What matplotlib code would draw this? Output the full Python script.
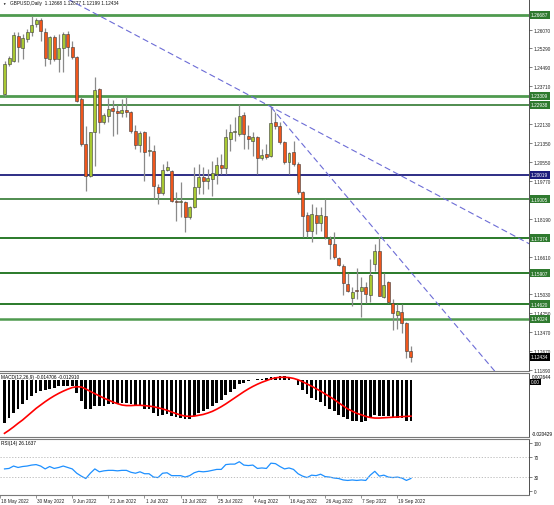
import numpy as np
import pandas as pd
import matplotlib
matplotlib.use("Agg")
import matplotlib.pyplot as plt
import matplotlib.transforms as mtransforms

plt.rcParams['font.family'] = ['Liberation Sans', 'DejaVu Sans']

# GBPUSD daily, 19 May 2022 - 22 Sep 2022
dates = pd.bdate_range('2022-05-19', '2022-09-22')

opens = [1.2338, 1.2463, 1.2477, 1.2581, 1.2529, 1.2567, 1.2598, 1.2630, 1.2648, 1.2598,
         1.2484, 1.2577, 1.2484, 1.2529, 1.2588, 1.2533, 1.2491, 1.2317, 1.2130, 1.1998,
         1.2179, 1.2359, 1.2220, 1.2248, 1.2280, 1.2266, 1.2258, 1.2272, 1.2262, 1.2183,
         1.2126, 1.2179, 1.2102, 1.2102, 1.1950, 1.1925, 1.2022, 1.2016, 1.1891, 1.1889,
         1.1887, 1.1825, 1.1866, 1.1952, 1.1994, 1.1975, 1.1984, 1.2005, 1.2044, 1.2030,
         1.2151, 1.2179, 1.2172, 1.2252, 1.2165, 1.2144, 1.2160, 1.2072, 1.2088, 1.2081,
         1.2220, 1.2206, 1.2137, 1.2054, 1.2095, 1.2047, 1.1929, 1.1835, 1.1769, 1.1835,
         1.1801, 1.1831, 1.1734, 1.1713, 1.1654, 1.1623, 1.1547, 1.1487, 1.1520, 1.1519,
         1.1533, 1.1501, 1.1630, 1.1685, 1.1491, 1.1554, 1.1467, 1.1419, 1.1431, 1.1384,
         1.12668]
highs = [1.2476, 1.2498, 1.2595, 1.2595, 1.2588, 1.2609, 1.2665, 1.2654, 1.2654, 1.2612,
         1.2581, 1.2584, 1.2588, 1.2598, 1.2602, 1.2560, 1.2498, 1.2325, 1.2206, 1.2181,
         1.2408, 1.2362, 1.2259, 1.2322, 1.2313, 1.2294, 1.2317, 1.2327, 1.2269, 1.2210,
         1.2185, 1.2185, 1.2165, 1.2126, 1.1963, 1.2047, 1.2058, 1.2022, 1.1929, 1.1970,
         1.1894, 1.1873, 1.2033, 1.2047, 1.2033, 1.2026, 1.2060, 1.2074, 1.2088, 1.2192,
         1.2213, 1.2241, 1.2297, 1.2262, 1.2210, 1.2179, 1.2165, 1.2109, 1.2130, 1.2285,
         1.2262, 1.2220, 1.2144, 1.2095, 1.2144, 1.2054, 1.1935, 1.1845, 1.1880, 1.1866,
         1.1866, 1.1901, 1.1748, 1.1762, 1.1658, 1.1630, 1.1592, 1.1533, 1.1612, 1.1575,
         1.1554, 1.1651, 1.1713, 1.1741, 1.1592, 1.1559, 1.1484, 1.1463, 1.1463, 1.1387,
         1.12877]
lows = [1.2330, 1.2456, 1.2470, 1.2470, 1.2484, 1.2554, 1.2581, 1.2616, 1.2558, 1.2456,
        1.2463, 1.2477, 1.2429, 1.2429, 1.2498, 1.2484, 1.2304, 1.2123, 1.1935, 1.1991,
        1.2040, 1.2176, 1.2213, 1.2220, 1.2165, 1.2172, 1.2241, 1.2241, 1.2174, 1.2109,
        1.2095, 1.1977, 1.2081, 1.1901, 1.1880, 1.1919, 1.2016, 1.1887, 1.1810, 1.1825,
        1.1762, 1.1817, 1.1863, 1.1922, 1.1922, 1.1942, 1.1915, 1.1963, 1.2005, 1.2005,
        1.2102, 1.2144, 1.2165, 1.2109, 1.2109, 1.2081, 1.2005, 1.2063, 1.2067, 1.2075,
        1.2192, 1.2130, 1.2047, 1.2005, 1.2040, 1.1922, 1.1741, 1.1741, 1.1720, 1.1755,
        1.1769, 1.1734, 1.1651, 1.1651, 1.1622, 1.1501, 1.1515, 1.1454, 1.1484, 1.1408,
        1.1467, 1.1470, 1.1602, 1.1495, 1.1487, 1.1467, 1.1356, 1.1359, 1.1342, 1.1237,
        1.12199]
closes = [1.2463, 1.2487, 1.2584, 1.2533, 1.2570, 1.2598, 1.2626, 1.2648, 1.2602, 1.2487,
          1.2575, 1.2484, 1.2529, 1.2588, 1.2533, 1.2491, 1.2310, 1.2130, 1.1998, 1.2179,
          1.2355, 1.2220, 1.2251, 1.2276, 1.2266, 1.2258, 1.2272, 1.2262, 1.2183, 1.2126,
          1.2174, 1.2095, 1.2105, 1.1956, 1.1925, 1.2022, 1.2035, 1.1891, 1.1887, 1.1892,
          1.1825, 1.1866, 1.1950, 1.1991, 1.1977, 1.1988, 1.2008, 1.2044, 1.2030, 1.2158,
          1.2179, 1.2183, 1.2248, 1.2172, 1.2151, 1.2160, 1.2072, 1.2085, 1.2077, 1.2216,
          1.2206, 1.2137, 1.2054, 1.2091, 1.2047, 1.1929, 1.1831, 1.1769, 1.1838, 1.1801,
          1.1834, 1.1741, 1.1713, 1.1658, 1.1626, 1.1551, 1.1519, 1.1515, 1.1519, 1.1533,
          1.1505, 1.1584, 1.1685, 1.1498, 1.1542, 1.1470, 1.1426, 1.1435, 1.1384, 1.1269,
          1.12434]

macd_main = [-0.0154, -0.0136, -0.0117, -0.0103, -0.0087, -0.0071, -0.0057, -0.0044, -0.0038, -0.0036,
             -0.0030, -0.0026, -0.0022, -0.0020, -0.0020, -0.0022, -0.0044, -0.0075, -0.0103, -0.0103,
             -0.0093, -0.0093, -0.0091, -0.0087, -0.0085, -0.0085, -0.0083, -0.0081, -0.0087, -0.0093,
             -0.0093, -0.0103, -0.0105, -0.0117, -0.0127, -0.0124, -0.0120, -0.0127, -0.0132, -0.0134,
             -0.0140, -0.0140, -0.0130, -0.0117, -0.0112, -0.0103, -0.0093, -0.0081, -0.0071, -0.0054,
             -0.0042, -0.0030, -0.0014, -0.0008, -0.0004, 0.0002, 0.0004, 0.0006, 0.0008, 0.0012,
             0.0012, 0.0014, 0.0014, 0.0011, 0.0002, -0.0018, -0.0035, -0.0051, -0.0063, -0.0071,
             -0.0079, -0.0091, -0.0103, -0.0112, -0.0124, -0.0132, -0.0140, -0.0145, -0.0148, -0.0149,
             -0.0148, -0.0132, -0.0124, -0.0127, -0.0127, -0.0130, -0.0132, -0.0135, -0.0137, -0.0145,
             -0.014706]
macd_signal = [-0.0191, -0.0180, -0.0168, -0.0155, -0.0143, -0.0129, -0.0115, -0.0101, -0.0089, -0.0077,
               -0.0066, -0.0056, -0.0047, -0.0039, -0.0032, -0.0026, -0.0023, -0.0024, -0.0031, -0.0040,
               -0.0048, -0.0056, -0.0064, -0.0071, -0.0078, -0.0084, -0.0089, -0.0091, -0.0091, -0.0090,
               -0.0090, -0.0091, -0.0093, -0.0095, -0.0099, -0.0103, -0.0108, -0.0114, -0.0120, -0.0125,
               -0.0129, -0.0130, -0.0129, -0.0126, -0.0123, -0.0118, -0.0112, -0.0104, -0.0095, -0.0085,
               -0.0074, -0.0063, -0.0052, -0.0041, -0.0031, -0.0022, -0.0014, -0.0007, -0.0001, 0.0005,
               0.0009, 0.0011, 0.0011, 0.0010, 0.0007, 0.0002, -0.0005, -0.0013, -0.0021, -0.0030,
               -0.0039, -0.0049, -0.0059, -0.0069, -0.0081, -0.0092, -0.0103, -0.0111, -0.0119, -0.0124,
               -0.0130, -0.0134, -0.0136, -0.0136, -0.0135, -0.0134, -0.0133, -0.0132, -0.0131, -0.0130,
               -0.012910]
rsi_vals = [46, 47, 52, 49, 51, 52, 54, 55, 52, 46,
            51, 47, 49, 52, 49, 46, 37, 31, 26, 37,
            46, 40, 42, 43, 43, 42, 43, 43, 39, 37,
            40, 36, 36, 29, 28, 37, 38, 32, 32, 32,
            29, 32, 38, 41, 40, 41, 43, 45, 45, 55,
            56, 56, 61, 54, 53, 54, 47, 48, 47, 58,
            57, 51, 46, 48, 45, 36, 31, 28, 33, 32,
            35, 30, 29, 27, 26, 23, 22, 23, 22, 23,
            22, 33, 41, 31, 33, 29, 28, 29, 27, 22,
            26.1637]

# horizontal levels and trend lines drawn on the chart
levels = [1.26687, 1.23309, 1.22938, 1.20019, 1.19005, 1.17374, 1.15907, 1.14620, 1.14024]
level_colors = ['#4f9a4f', '#4f9a4f', '#1f6e1f', '#1c1c7c', '#1f6e1f', '#2a7a2a', '#2a7a2a', '#2a7a2a', '#4f9a4f']
level_widths = [2.0, 2.0, 1.1, 1.3, 1.1, 1.4, 1.4, 1.4, 1.8]
trend_1 = [(14, 1.2734), (59, 1.2285)]      # (bar number, price)
trend_2 = [(59, 1.2284), (107.6, 1.1205)]

# price scale labels left visible (the others sit under the level boxes)
price_ticks = [1.11890, 1.12670, 1.13470, 1.14250, 1.15030, 1.16610, 1.18190,
               1.19770, 1.20550, 1.21350, 1.22130, 1.23710, 1.24490, 1.25290, 1.26070]
date_labels = ['18 May 2022', '30 May 2022', '9 Jun 2022', '21 Jun 2022', '1 Jul 2022', '13 Jul 2022',
               '25 Jul 2022', '4 Aug 2022', '16 Aug 2022', '26 Aug 2022', '7 Sep 2022', '19 Sep 2022']
last_price = 1.12434

opens = np.array(opens); closes = np.array(closes)
xs = np.arange(len(closes))
FS = 3.4

fig = plt.figure(figsize=(5.54, 5.06), dpi=100)
W = 529 / 554
ax = fig.add_axes([0, 1 - 372 / 506, W, 372 / 506])
ax_m = fig.add_axes([0, 1 - 438 / 506, W, 64 / 506], sharex=ax)
ax_r = fig.add_axes([0, 1 - 496 / 506, W, 56 / 506], sharex=ax)

# candles
ax.vlines(xs, lows, highs, color='#8a8a8a', lw=0.9, zorder=2)
body_lo = np.minimum(opens, closes)
body_h = np.maximum(np.abs(closes - opens), 0.00004)
ax.bar(xs, body_h, 0.66, bottom=body_lo,
       color=np.where(closes >= opens, '#a8c832', '#f0561c'),
       edgecolor='#3a3a3a', linewidth=0.4, zorder=3)

for lv, c, w in zip(levels, level_colors, level_widths):
    ax.axhline(lv, color=c, lw=w, zorder=1)

for (xa, ya), (xb, yb) in [trend_1, trend_2]:
    k = (yb - ya) / (xb - xa)
    x0 = xa if xa > 20 else 0
    xx = np.array([x0, 117])
    ax.plot(xx, ya + k * (xx - xa), color='#6c6cd6', lw=0.8, dashes=(5.5, 3), zorder=4)

ax.set_xlim(0.206, 116.15)
ax.set_ylim(1.11841, 1.27341)
ax.yaxis.tick_right()
ax.set_yticks(price_ticks)
ax.set_yticklabels([f'{v:.5f}' for v in price_ticks])
ax.tick_params(axis='y', labelsize=FS, length=2, width=0.4, pad=1.5, colors='#222222')
ax.tick_params(axis='x', bottom=False, labelbottom=False)

ytr = mtransforms.blended_transform_factory(ax.transAxes, ax.transData)
box_colors = ['#2f7a2f' if c != '#1c1c7c' else '#1c1c7c' for c in level_colors]
for lv, bc in zip(levels + [last_price], box_colors + ['black']):
    ax.text(1.0 + 2 / 529, lv, f'{lv:.5f}', transform=ytr, ha='left', va='center',
            fontsize=FS, color='white', clip_on=False, zorder=10,
            bbox=dict(boxstyle='square,pad=0.3', fc=bc, ec='none'))

fig.text(2 / 554, 1 - 3.5 / 506, '\u25BC', fontsize=2.5, va='center', ha='left')
fig.text(10 / 554, 1 - 3.5 / 506, 'GBPUSD,Daily  1.12668 1.12877 1.12199 1.12434',
         fontsize=FS, va='center', ha='left', color='#111111')

# MACD
ax_m.bar(xs, macd_main, 0.6, color='black', zorder=2)
ax_m.plot(xs, macd_signal, color='#ff0000', lw=1.2, zorder=3)
ax_m.set_ylim(-0.020429, 0.002644)
ax_m.set_yticks([])
ax_m.tick_params(axis='x', bottom=False, labelbottom=False)
ax_m.text(1 / 529, 0.985, 'MACD(12,26,9) -0.014706 -0.012910', transform=ax_m.transAxes,
          fontsize=FS, va='top', ha='left')
ax_m.text(1.0 + 3 / 529, 0.985, '0.002644', transform=ax_m.transAxes, fontsize=FS,
          va='top', ha='left', clip_on=False)
ax_m.text(1.0 + 3 / 529, 0.02, '-0.020429', transform=ax_m.transAxes, fontsize=FS,
          va='bottom', ha='left', clip_on=False)
mtr = mtransforms.blended_transform_factory(ax_m.transAxes, ax_m.transData)
ax_m.text(1.0 + 2 / 529, -0.0006, '0.00', transform=mtr, fontsize=FS, va='center', ha='left',
          color='white', clip_on=False, bbox=dict(boxstyle='square,pad=0.2', fc='black', ec='none'))

# RSI
ax_r.plot(xs, rsi_vals, color='#1e90ff', lw=0.9)
for lv in (70, 30):
    ax_r.axhline(lv, color='#b4b4b4', lw=0.6, ls=(0, (1.5, 2)))
ax_r.set_ylim(-8.33, 108.33)
ax_r.yaxis.tick_right()
ax_r.set_yticks([0, 30, 70, 100])
ax_r.tick_params(axis='y', labelsize=FS, length=2, width=0.4, pad=1.5, colors='#222222')
ax_r.text(1 / 529, 0.985, 'RSI(14) 26.1637', transform=ax_r.transAxes, fontsize=FS,
          va='top', ha='left')

label_pos = [-1 + 8 * k for k in range(len(date_labels))]
ax_r.set_xticks(label_pos)
ax_r.tick_params(axis='x', length=2, width=0.4, labelbottom=False, color='#444444')
xtr = mtransforms.blended_transform_factory(ax_r.transData, ax_r.transAxes)
for p, lab in zip(label_pos, date_labels):
    ax_r.text(p + 0.25, -0.09, lab, transform=xtr, fontsize=FS, va='center', ha='left',
              clip_on=False, color='#222222')

for a in (ax, ax_m, ax_r):
    for s in a.spines.values():
        s.set_color('#7a7a7a')
        s.set_linewidth(0.8)
    a.spines['right'].set_color('#333333')
    a.spines['right'].set_linewidth(0.6)
    a.spines['left'].set_visible(False)
ax.spines['top'].set_visible(False)

fig.savefig('out.png', dpi=100)
